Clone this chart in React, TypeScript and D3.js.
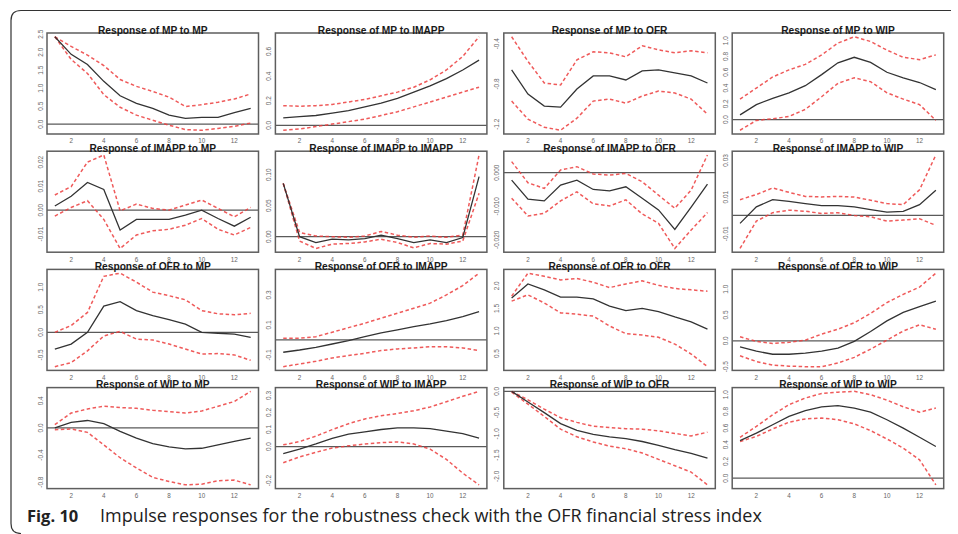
import React from "react";
import * as d3 from "d3";

// ---------- data ----------
const periods = [1, 2, 3, 4, 5, 6, 7, 8, 9, 10, 11, 12, 13];
const xTickLabels = ["2", "4", "6", "8", "10", "12"];
const variables = ["MP", "IMAPP", "OFR", "WIP"];
const captionBold = "Fig. 10";
const captionText = "Impulse responses for the robustness check with the OFR financial stress index";

// Response of MP
const mpMpMean = [2.43, 1.94, 1.66, 1.19, 0.79, 0.58, 0.44, 0.25, 0.16, 0.19, 0.19, 0.32, 0.44];
const mpMpUpper = [2.43, 2.16, 1.92, 1.63, 1.24, 1.05, 0.91, 0.75, 0.49, 0.54, 0.61, 0.7, 0.84];
const mpMpLower = [2.43, 1.8, 1.41, 0.82, 0.47, 0.25, 0.11, -0.03, -0.15, -0.17, -0.12, -0.06, 0.03];
const mpMpTicks = ["0.0", "0.5", "1.0", "1.5", "2.0", "2.5"];

const mpImappMean = [0.06, 0.07, 0.08, 0.1, 0.12, 0.15, 0.18, 0.22, 0.27, 0.32, 0.38, 0.45, 0.53];
const mpImappUpper = [0.16, 0.155, 0.16, 0.17, 0.19, 0.21, 0.24, 0.27, 0.31, 0.37, 0.45, 0.56, 0.72];
const mpImappLower = [-0.04, -0.03, -0.01, 0.01, 0.03, 0.05, 0.08, 0.11, 0.15, 0.19, 0.23, 0.27, 0.31];
const mpImappTicks = ["0.0", "0.2", "0.4", "0.6"];

const mpOfrMean = [-0.66, -0.9, -1.02, -1.03, -0.85, -0.72, -0.72, -0.76, -0.67, -0.66, -0.69, -0.72, -0.79];
const mpOfrUpper = [-0.33, -0.575, -0.79, -0.81, -0.56, -0.48, -0.49, -0.53, -0.42, -0.46, -0.49, -0.47, -0.49];
const mpOfrLower = [-0.97, -1.15, -1.23, -1.26, -1.14, -0.97, -0.95, -0.99, -0.92, -0.87, -0.89, -0.95, -1.1];
const mpOfrTicks = ["-1.2", "-0.8", "-0.4"];

const mpWipMean = [0.06, 0.19, 0.27, 0.34, 0.43, 0.57, 0.72, 0.79, 0.725, 0.6, 0.53, 0.47, 0.38];
const mpWipUpper = [0.26, 0.4, 0.54, 0.63, 0.7, 0.82, 0.97, 1.05, 0.99, 0.88, 0.79, 0.76, 0.82];
const mpWipLower = [-0.135, -0.01, 0.01, 0.04, 0.13, 0.29, 0.46, 0.53, 0.48, 0.34, 0.26, 0.19, -0.01];
const mpWipTicks = ["0.0", "0.2", "0.4", "0.6", "0.8", "1.0"];

// Response of IMAPP
const imappMpMean = [0.0017, 0.0058, 0.0115, 0.0086, -0.0083, -0.0039, -0.0039, -0.0039, -0.0021, 0.0, -0.0035, -0.0067, -0.003];
const imappMpUpper = [0.0063, 0.0098, 0.02, 0.023, -0.0003, 0.0025, 0.0007, 0.0, 0.0021, 0.0042, 0.0007, -0.0028, 0.0011];
const imappMpLower = [-0.0025, 0.0011, 0.0039, -0.0039, -0.016, -0.0104, -0.0086, -0.008, -0.0063, -0.0035, -0.008, -0.0104, -0.0072];
const imappMpTicks = ["-0.01", "0.00", "0.01", "0.02"];

const imappImappMean = [0.086, 0.0, -0.0095, -0.004, -0.005, -0.003, 0.0025, -0.003, -0.0095, -0.005, -0.0095, -0.0013, 0.097];
const imappImappUpper = [0.086, 0.007, 0.001, 0.0, -0.001, 0.001, 0.0085, 0.0025, -0.001, 0.001, -0.001, 0.0025, 0.132];
const imappImappLower = [0.086, -0.007, -0.019, -0.012, -0.011, -0.0085, -0.004, -0.0095, -0.018, -0.011, -0.012, -0.007, 0.07];
const imappImappTicks = ["0.00", "0.05", "0.10"];

const imappOfrMean = [-0.0022, -0.0079, -0.0084, -0.0037, -0.0022, -0.005, -0.0054, -0.0042, -0.0076, -0.0111, -0.0169, -0.0103, -0.0034];
const imappOfrUpper = [0.0033, -0.003, -0.0047, 0.0008, 0.0018, -0.0004, -0.0007, -0.0002, -0.0027, -0.0067, -0.0106, -0.0052, 0.0053];
const imappOfrLower = [-0.0076, -0.0129, -0.0121, -0.0084, -0.0057, -0.0093, -0.0099, -0.0081, -0.0123, -0.0151, -0.0226, -0.0171, -0.0119];
const imappOfrTicks = ["-0.020", "-0.010", "0.000"];

const imappWipMean = [-0.0043, 0.0047, 0.0086, 0.0077, 0.0065, 0.0054, 0.0054, 0.0047, 0.0032, 0.0018, 0.0022, 0.0059, 0.0137];
const imappWipUpper = [0.0086, 0.0114, 0.015, 0.0126, 0.0104, 0.0101, 0.0104, 0.01, 0.0083, 0.0065, 0.0059, 0.014, 0.033];
const imappWipLower = [-0.018, -0.0031, 0.0015, 0.0029, 0.0023, 0.0011, 0.0015, 0.0, -0.0007, -0.0031, -0.0025, -0.0018, -0.0054];
const imappWipTicks = ["-0.01", "0.01", "0.03"];

// Response of OFR
const ofrMpMean = [-0.37, -0.26, 0.0, 0.58, 0.68, 0.48, 0.37, 0.28, 0.18, 0.0, -0.02, -0.04, -0.11];
const ofrMpUpper = [0.0, 0.15, 0.44, 1.24, 1.31, 1.11, 0.89, 0.81, 0.72, 0.48, 0.41, 0.39, 0.42];
const ofrMpLower = [-0.76, -0.67, -0.41, -0.08, 0.02, -0.15, -0.17, -0.26, -0.37, -0.48, -0.47, -0.5, -0.62];
const ofrMpTicks = ["-0.5", "0.0", "0.5", "1.0"];

const ofrImappMean = [-0.082, -0.067, -0.049, -0.027, -0.005, 0.022, 0.047, 0.067, 0.089, 0.107, 0.129, 0.155, 0.189];
const ofrImappUpper = [0.011, 0.011, 0.022, 0.051, 0.082, 0.111, 0.145, 0.178, 0.211, 0.245, 0.3, 0.362, 0.445];
const ofrImappLower = [-0.178, -0.16, -0.142, -0.12, -0.104, -0.089, -0.071, -0.06, -0.053, -0.045, -0.045, -0.053, -0.071];
const ofrImappTicks = ["-0.1", "0.1", "0.3"];

const ofrOfrMean = [1.73, 2.04, 1.91, 1.75, 1.75, 1.71, 1.55, 1.45, 1.5, 1.43, 1.31, 1.2, 1.04];
const ofrOfrUpper = [1.77, 2.28, 2.21, 2.13, 2.16, 2.08, 1.96, 2.04, 2.11, 2.01, 1.94, 1.91, 1.88];
const ofrOfrLower = [1.66, 1.8, 1.62, 1.4, 1.37, 1.33, 1.11, 0.94, 0.91, 0.86, 0.71, 0.49, 0.21];
const ofrOfrTicks = ["0.5", "1.0", "1.5", "2.0"];

const ofrWipMean = [-0.115, -0.2, -0.26, -0.26, -0.24, -0.2, -0.14, -0.01, 0.18, 0.385, 0.55, 0.66, 0.77];
const ofrWipUpper = [0.077, -0.01, -0.05, -0.03, 0.013, 0.13, 0.225, 0.35, 0.53, 0.74, 0.9, 1.04, 1.31];
const ofrWipLower = [-0.29, -0.4, -0.47, -0.49, -0.5, -0.5, -0.43, -0.32, -0.16, 0.013, 0.19, 0.31, 0.225];
const ofrWipTicks = ["-0.5", "0.0", "0.5", "1.0"];

// Response of WIP
const wipMpMean = [0.0, 0.083, 0.11, 0.064, -0.05, -0.15, -0.23, -0.28, -0.31, -0.3, -0.25, -0.2, -0.15];
const wipMpUpper = [0.05, 0.22, 0.28, 0.32, 0.3, 0.29, 0.26, 0.24, 0.22, 0.25, 0.32, 0.39, 0.54];
const wipMpLower = [-0.025, -0.015, -0.065, -0.25, -0.44, -0.59, -0.73, -0.79, -0.84, -0.83, -0.78, -0.77, -0.84];
const wipMpTicks = ["-0.8", "-0.4", "0.0", "0.4"];

const wipImappMean = [-0.042, -0.015, 0.015, 0.048, 0.073, 0.086, 0.1, 0.109, 0.11, 0.105, 0.091, 0.076, 0.05];
const wipImappUpper = [0.01, 0.029, 0.061, 0.099, 0.134, 0.162, 0.181, 0.194, 0.21, 0.232, 0.263, 0.295, 0.324];
const wipImappLower = [-0.095, -0.061, -0.034, -0.009, 0.004, 0.015, 0.023, 0.027, 0.015, -0.015, -0.076, -0.156, -0.225];
const wipImappTicks = ["-0.2", "0.0", "0.1", "0.2", "0.3"];

const wipOfrMean = [0.0, -0.25, -0.5, -0.76, -0.92, -1.01, -1.07, -1.11, -1.18, -1.27, -1.37, -1.46, -1.57];
const wipOfrUpper = [0.0, -0.2, -0.42, -0.62, -0.73, -0.82, -0.85, -0.88, -0.89, -0.93, -0.99, -1.05, -0.96];
const wipOfrLower = [-0.02, -0.3, -0.59, -0.89, -1.07, -1.19, -1.29, -1.35, -1.45, -1.6, -1.75, -1.9, -2.2];
const wipOfrTicks = ["-2.0", "-1.5", "-1.0", "-0.5", "0.0"];

const wipWipMean = [0.45, 0.54, 0.64, 0.74, 0.81, 0.855, 0.87, 0.84, 0.79, 0.7, 0.6, 0.49, 0.38];
const wipWipUpper = [0.49, 0.62, 0.76, 0.88, 0.96, 1.015, 1.03, 1.04, 1.0, 0.935, 0.855, 0.79, 0.84];
const wipWipLower = [0.44, 0.5, 0.59, 0.67, 0.71, 0.72, 0.7, 0.65, 0.57, 0.47, 0.36, 0.22, -0.08];
const wipWipTicks = ["0.0", "0.2", "0.4", "0.6", "0.8", "1.0"];

// table built from the arrays above (row = response, col = impulse)
const panelTable = [
  [mpMpMean, mpMpUpper, mpMpLower, mpMpTicks],
  [mpImappMean, mpImappUpper, mpImappLower, mpImappTicks],
  [mpOfrMean, mpOfrUpper, mpOfrLower, mpOfrTicks],
  [mpWipMean, mpWipUpper, mpWipLower, mpWipTicks],
  [imappMpMean, imappMpUpper, imappMpLower, imappMpTicks],
  [imappImappMean, imappImappUpper, imappImappLower, imappImappTicks],
  [imappOfrMean, imappOfrUpper, imappOfrLower, imappOfrTicks],
  [imappWipMean, imappWipUpper, imappWipLower, imappWipTicks],
  [ofrMpMean, ofrMpUpper, ofrMpLower, ofrMpTicks],
  [ofrImappMean, ofrImappUpper, ofrImappLower, ofrImappTicks],
  [ofrOfrMean, ofrOfrUpper, ofrOfrLower, ofrOfrTicks],
  [ofrWipMean, ofrWipUpper, ofrWipLower, ofrWipTicks],
  [wipMpMean, wipMpUpper, wipMpLower, wipMpTicks],
  [wipImappMean, wipImappUpper, wipImappLower, wipImappTicks],
  [wipOfrMean, wipOfrUpper, wipOfrLower, wipOfrTicks],
  [wipWipMean, wipWipUpper, wipWipLower, wipWipTicks],
];

// ---------- layout ----------
const W = 958;
const H = 534;
const gridLeft = 47;
const gridTop = 33;
const colStep = 228.4;
const rowStep = 118.2;
const boxW = 211.5;
const boxH = 101;

const RED = "#ec3d3d";
const FONT = "'Liberation Sans', Arial, Helvetica, sans-serif";
const CAPTION_FONT = "'Open Sans', 'Noto Sans', sans-serif";

function Panel({ idx }: { idx: number }) {
  const row = Math.floor(idx / 4);
  const col = idx % 4;
  const [mean, upper, lower, ticks] = panelTable[idx] as [number[], number[], number[], string[]];
  const bx = gridLeft + col * colStep;
  const by = gridTop + row * rowStep;

  const all = [...mean, ...upper, ...lower];
  const lo = d3.min(all) as number;
  const hi = d3.max(all) as number;
  const pad = (hi - lo) * 0.04;
  const xPad = (13 - 1) * 0.04;

  const x = d3.scaleLinear().domain([1 - xPad, 13 + xPad]).range([bx, bx + boxW]);
  const y = d3.scaleLinear().domain([lo - pad, hi + pad]).range([by + boxH, by]);

  const line = d3
    .line<number>()
    .x((_, i) => x(periods[i]))
    .y((d) => y(d));

  const clipId = `clip-${idx}`;
  const title = `Response of ${variables[row]} to ${variables[col]}`;
  const zeroIn = 0 >= lo - pad && 0 <= hi + pad;

  return (
    <g>
      <defs>
        <clipPath id={clipId}>
          <rect x={bx} y={by} width={boxW} height={boxH} />
        </clipPath>
      </defs>
      <g clipPath={`url(#${clipId})`}>
        {zeroIn && (
          <line x1={bx} x2={bx + boxW} y1={y(0)} y2={y(0)} stroke="#5a5a5a" strokeWidth={1.3} />
        )}
        <path d={line(upper) || ""} fill="none" stroke={RED} strokeWidth={1.5} strokeDasharray="3.5,2.5" opacity={0.85} />
        <path d={line(lower) || ""} fill="none" stroke={RED} strokeWidth={1.5} strokeDasharray="3.5,2.5" opacity={0.85} />
        <path d={line(mean) || ""} fill="none" stroke="#333" strokeWidth={1.3} />
      </g>
      <rect x={bx} y={by} width={boxW} height={boxH} fill="none" stroke="#5e5e5e" strokeWidth={1.5} />
      {ticks.map((t) => (
        <text
          key={t}
          transform={`translate(${bx - 4.5},${y(+t)}) rotate(-90)`}
          textAnchor="middle"
          fontSize={6.5}
          fill="#666"
          fontFamily={FONT}
        >
          {t}
        </text>
      ))}
      {xTickLabels.map((t) => (
        <text
          key={t}
          x={x(+t)}
          y={by + boxH + 9.3}
          textAnchor="middle"
          fontSize={6.3}
          fill="#666"
          fontFamily={FONT}
        >
          {t}
        </text>
      ))}
      <text
        x={bx + boxW / 2}
        y={by + 0.8}
        textAnchor="middle"
        fontSize={10.2}
        fontWeight="bold"
        fill="#1a1a1a"
        fontFamily={FONT}
      >
        {title}
      </text>
    </g>
  );
}

export default function App() {
  return (
    <svg
      width={W}
      height={H}
      viewBox={`0 0 ${W} ${H}`}
      style={{ position: "absolute", left: 0, top: 0, display: "block", background: "#fff" }}
    >
      <rect x={0} y={0} width={W} height={H} fill="#fff" />
      <path
        d="M 951 10.5 H 21 Q 11 10.5 11 20.5 V 523.5 Q 11 533.5 21 533.5"
        fill="none"
        stroke="#333"
        strokeWidth={1.2}
      />
      {panelTable.map((_, i) => (
        <Panel key={i} idx={i} />
      ))}
      <text x={27} y={522} fontSize={16.5} fontWeight="bold" fill="#222" fontFamily={CAPTION_FONT}>
        {captionBold}
      </text>
      <text x={100} y={522} fontSize={18} fill="#222" fontFamily={CAPTION_FONT}>
        {captionText}
      </text>
    </svg>
  );
}
